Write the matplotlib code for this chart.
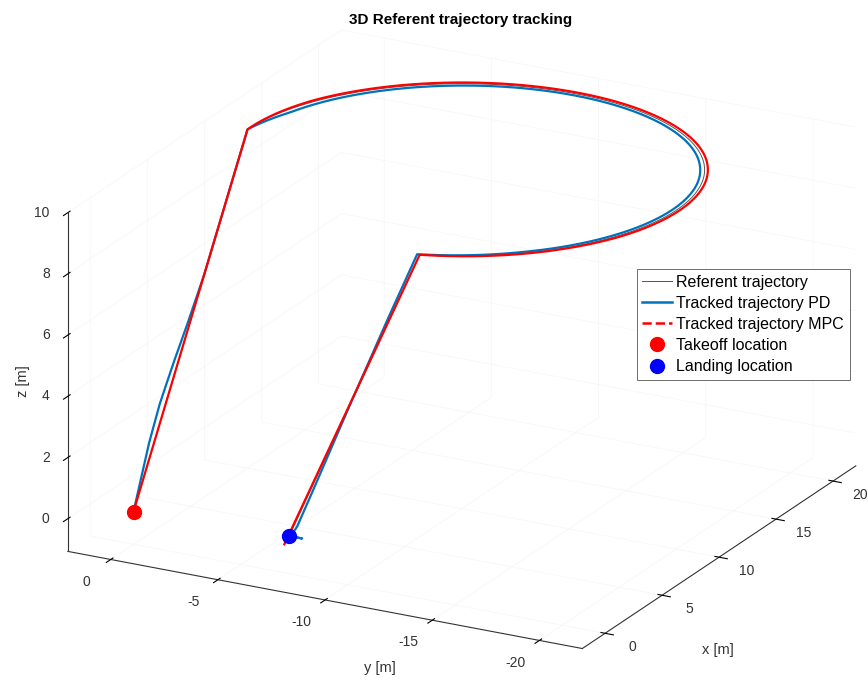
import numpy as np
import matplotlib
matplotlib.use("Agg")
import matplotlib.pyplot as plt
from matplotlib.lines import Line2D
from mpl_toolkits.mplot3d import proj3d

plt.rcParams['font.family'] = ['Liberation Sans', 'DejaVu Sans']
plt.rcParams['axes.unicode_minus'] = False
plt.rcParams['grid.color'] = '#f7f7f7'
plt.rcParams['grid.linewidth'] = 0.6

# reference trajectory: takeoff -> climb -> circle at altitude -> descent -> landing
takeoff = [0.0, 0.0, 0.0]
climb_end = [10.0, 0.0, 10.0]
circle_center = [10.0, -10.0]
circle_radius = 10.0
circle_height = 10.0
arc_start_deg = 90.0
arc_end_deg = -162.0
landing = [0.5, -7.0, 0.0]

# tracking offsets
pd_radius = [10.0, 9.72, 9.8, 9.82, 9.85, 9.95]          # along the arc
pd_radius_at = [0.0, 0.06, 0.3, 0.6, 0.9, 1.0]
pd_climb_dy = [0.0, 0.1, 0.22, 0.26, 0.2, 0.1, 0.0]      # side bulge on climb
pd_climb_at = [0.0, 0.08, 0.18, 0.28, 0.38, 0.48, 0.62]
pd_desc_dy = [0.12, 0.1, 0.02, -0.1, -0.15, 0.0]         # side shift on descent
pd_desc_at = [0.0, 0.2, 0.5, 0.8, 0.97, 1.0]
pd_hook_y = [-7.0, -7.45, -7.6, -7.3]                    # touchdown hook
mpc_radius = [10.0, 10.12, 10.15, 10.12, 10.0]
mpc_radius_at = [0.0, 0.1, 0.4, 0.8, 1.0]
mpc_end = [0.5, -6.77, -0.3]

xlim = (-2, 22)
ylim = (-22, 2)
zlim = (-1.07, 10)
x_ticks = [0, 5, 10, 15, 20]
y_ticks = [0, -5, -10, -15, -20]
z_ticks = [0, 2, 4, 6, 8, 10]


def line(p0, p1, n=80):
    t = np.linspace(0, 1, n)
    p0, p1 = np.array(p0), np.array(p1)
    return p0[None, :] + t[:, None] * (p1 - p0)[None, :], t


def arc(radii=None, radii_at=None, n=300):
    th = np.radians(np.linspace(arc_start_deg, arc_end_deg, n))
    s = np.linspace(0, 1, n)
    r = np.full(n, circle_radius) if radii is None else np.interp(s, radii_at, radii)
    x = circle_center[0] + r * np.cos(th)
    y = circle_center[1] + r * np.sin(th)
    return np.column_stack([x, y, np.full(n, circle_height)])


arc_end = arc()[-1]

# referent
c1, _ = line(takeoff, climb_end)
c3, _ = line(arc_end, landing)
ref = np.vstack([c1, arc(), c3])

# PD
p1, t1 = line(takeoff, climb_end)
p1[:, 1] += np.interp(t1, pd_climb_at, pd_climb_dy)
p3, t3 = line(arc_end, landing)
p3[:, 1] += np.interp(t3, pd_desc_at, pd_desc_dy)
hook = np.column_stack([np.full(len(pd_hook_y), landing[0]), pd_hook_y,
                        np.zeros(len(pd_hook_y))])
pd = np.vstack([p1, arc(pd_radius, pd_radius_at), p3, hook])

# MPC
m1, _ = line(takeoff, climb_end)
m3, _ = line(arc_end, mpc_end)
mpc = np.vstack([m1, arc(mpc_radius, mpc_radius_at), m3])

fig = plt.figure(figsize=(8.68, 6.8), dpi=100)
ax = fig.add_axes([0.0215, -0.0124, 1.0, 1.0], projection='3d', proj_type='ortho')
ax.set_box_aspect((1, 1, 0.622), zoom=1.285)
ax.view_init(elev=20.8, azim=-152)

ax.plot(ref[:, 0], ref[:, 1], ref[:, 2], color='#555555', lw=0.7)
ax.plot(pd[:, 0], pd[:, 1], pd[:, 2], color='#0072BD', lw=1.6)
ax.plot(mpc[:, 0], mpc[:, 1], mpc[:, 2], color='red', lw=1.6)
ax.plot([takeoff[0]], [takeoff[1]], [takeoff[2]], 'o', color='red', ms=10)
ax.plot([landing[0]], [landing[1]], [landing[2]], 'o', color='blue', ms=10)

ax.set_xlim(*xlim)
ax.set_ylim(*ylim)
ax.set_zlim(*zlim)
ax.set_xticks(x_ticks)
ax.set_yticks(y_ticks)
ax.set_zticks(z_ticks)

for a in (ax.xaxis, ax.yaxis, ax.zaxis):
    a.set_tick_params(labelbottom=False)
    a.label.set_visible(False)
    a.set_pane_color((1, 1, 1, 0))
    a.pane.set_edgecolor('none')
    a.line.set_color('#333333')
    a.line.set_linewidth(0.8)

# tick labels placed the way MATLAB puts them (projected to the 2D axes plane)
M = ax.get_proj()
tick_style = dict(fontsize=10, color='#333333', va='center', transform=ax.transData)


def tick_label(x, y, z, s, ha):
    px, py, _ = proj3d.proj_transform(x, y, z, M)
    ax.text2D(px, py, s, ha=ha, **tick_style)


for xt in x_ticks:
    tick_label(xt, ylim[0] - 1.27, zlim[0] - 0.29, str(xt), 'center')
for yt in y_ticks:
    tick_label(xlim[0] - 2.1, yt, zlim[0] - 0.2, str(yt), 'center')
for zt in z_ticks:
    tick_label(xlim[0] - 0.36, ylim[1] + 0.66, zt, str(zt), 'right')

fig.text(0.531, 0.97, '3D Referent trajectory tracking', ha='center', va='center',
         fontsize=11, fontweight='bold')
fig.text(0.827, 0.044, 'x [m]', ha='center', va='center', fontsize=10.5, color='#333333')
fig.text(0.438, 0.018, 'y [m]', ha='center', va='center', fontsize=10.5, color='#333333')
fig.text(0.026, 0.44, 'z [m]', ha='center', va='center', fontsize=10.5, color='#333333',
         rotation=90)

handles = [Line2D([], [], color='#555555', lw=0.7),
           Line2D([], [], color='#0072BD', lw=1.8),
           Line2D([], [], color='red', lw=1.8, ls='--'),
           Line2D([], [], color='red', marker='o', ls='none', ms=10),
           Line2D([], [], color='blue', marker='o', ls='none', ms=10)]
labels = ['Referent trajectory', 'Tracked trajectory PD', 'Tracked trajectory MPC',
          'Takeoff location', 'Landing location']
leg = fig.legend(handles, labels, loc='upper right', bbox_to_anchor=(0.979, 0.604),
                 fontsize=11.5, fancybox=False, edgecolor='#555555', framealpha=1,
                 handlelength=1.9, labelspacing=0.38, borderpad=0.35, handletextpad=0.25,
                 borderaxespad=0)
leg.get_frame().set_linewidth(0.6)

fig.savefig('out.png', dpi=100)
